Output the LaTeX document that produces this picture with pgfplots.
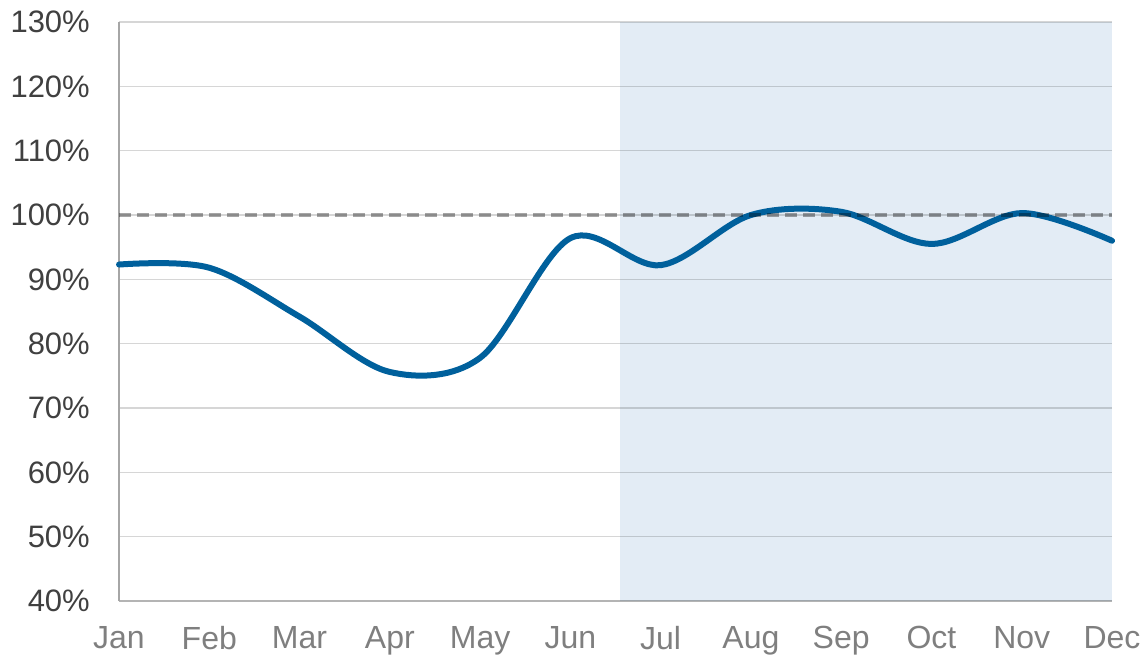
\documentclass[border=0pt]{standalone}
\usepackage{pgfplots}
\pgfplotsset{compat=1.18}
\usepackage{fontspec}
\setmainfont{Liberation Sans}
\definecolor{linec}{HTML}{00609C}
\definecolor{shadec}{HTML}{E3ECF5}
\definecolor{ylab}{HTML}{404040}
\definecolor{xlab}{HTML}{7F7F7F}
\definecolor{yaxis}{HTML}{A6A6A6}
\begin{document}
\begin{tikzpicture}[x=1pt,y=1pt]
\begin{axis}[
  set layers,
  at={(119pt,56pt)}, anchor=south west,
  scale only axis, width=993pt, height=579pt,
  xmin=0, xmax=11, ymin=40, ymax=130,
  xtick={0,...,11},
  xticklabels={Jan,Feb,Mar,Apr,May,Jun,Jul,Aug,Sep,Oct,Nov,Dec},
  ytick={40,50,60,70,80,90,100,110,120,130},
  yticklabels={40\%,50\%,60\%,70\%,80\%,90\%,100\%,110\%,120\%,130\%},
  major tick length=0,
  ymajorgrids,
  grid style={draw=black, draw opacity=0.16, line width=1.6pt},
  axis lines=left,
  axis line style={-},
  x axis line style={draw=black, draw opacity=0.16, line width=1.6pt},
  y axis line style={draw=yaxis, line width=1.8pt},
  xticklabel style={font=\fontsize{32}{32}\selectfont, text=xlab, inner sep=0pt, yshift=-25pt},
  yticklabel style={font=\fontsize{31}{31}\selectfont, text=ylab, inner sep=0pt, xshift=-29pt},
  clip=false,
]
\addplot[on layer=axis background, fill=shadec, draw=none] coordinates {(5.55,40) (11,40) (11,130) (5.55,130)} -- cycle;
\addplot[linec, line width=6pt, smooth, tension=0.55, line cap=round] coordinates {
(0,92.3) (1,91.8) (2,84.2) (3,75.6) (4,77.8) (5,96.4) (6,92.2) (7,100.0) (8,100.5) (9,95.5) (10,100.3) (11,96.0)};
\addplot[black, draw opacity=0.35, line width=4pt, dash pattern=on 12pt off 6pt] coordinates {(0,100) (11,100)};
\end{axis}
\pgfresetboundingbox
\useasboundingbox (0,0) rectangle (1145,657);
\end{tikzpicture}
\end{document}
